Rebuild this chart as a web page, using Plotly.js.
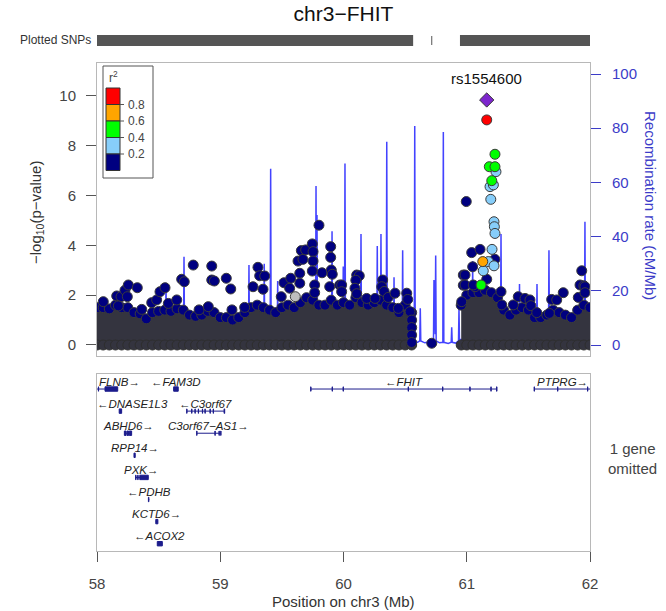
<!DOCTYPE html>
<html><head><meta charset="utf-8">
<script src="https://cdn.plot.ly/plotly-3.0.1.min.js"></script>
<style>html,body{margin:0;padding:0;background:#fff;}#plot{width:666px;height:611px;}</style>
</head><body><div id="plot"></div>
<script>
// ---------------- DATA ----------------
const chartTitle = 'chr3−FHIT';
const leadSnp = 'rs1554600';
const xTicks = [58, 59, 60, 61, 62];
const pTicks = [0, 2, 4, 6, 8, 10];
const recTicks = [0, 20, 40, 60, 80, 100];

// recombination rate (cM/Mb)
const recPos = [58.000,58.080,58.150,58.250,58.350,58.450,58.530,58.556,58.560,58.564,58.640,58.702,58.706,58.710,58.800,58.900,59.000,59.100,59.200,59.229,59.233,59.237,59.300,59.353,59.357,59.361,59.405,59.409,59.413,59.462,59.466,59.470,59.550,59.650,59.720,59.773,59.777,59.781,59.785,59.789,59.850,59.903,59.907,59.911,59.960,59.994,59.998,60.002,60.008,60.012,60.016,60.080,60.138,60.142,60.146,60.220,60.270,60.274,60.278,60.300,60.304,60.308,60.347,60.351,60.355,60.406,60.410,60.414,60.476,60.480,60.484,60.530,60.574,60.578,60.582,60.600,60.619,60.623,60.627,60.660,60.680,60.700,60.730,60.734,60.738,60.744,60.748,60.752,60.780,60.806,60.810,60.814,60.850,60.874,60.878,60.882,60.910,60.933,60.937,60.941,61.000,61.044,61.048,61.052,61.150,61.274,61.278,61.282,61.350,61.424,61.428,61.432,61.500,61.566,61.570,61.574,61.620,61.663,61.667,61.671,61.800,61.955,61.959,61.963,62.000];
const recRate = [2,3,1.5,2.5,2,3,2,3,23,3,2,3,32.6,3,2,2.5,2,3,2,3,29.5,3,2,3,30,3,3,65,3,3,23.6,3,2,2.5,2,4,58.7,5,48,4,2,4,42,3,2,4,29,5,5,67,4,2,4,41,3,2,4,36.5,4,5,41,4,4,75,4,3,25,3,3,35,3,2,2,80.8,1.5,1,1.5,13.6,1.5,0.8,1,0.6,1,24,4,4,33,1.5,0.8,1,78.6,1,0.6,1,6.5,1,0.7,1.5,13.6,2,2,3,31,3,2,4,41,3,2,3,22.5,3,2,3,22.5,3,2,3,35,3,2,3,45.5,3,2];

// upper edge of the dense SNP cloud (-log10 p), and its floor
const bandLeftX = [58.00,58.05,58.10,58.15,58.20,58.25,58.30,58.35,58.40,58.45,58.50,58.55,58.60,58.65,58.70,58.75,58.80,58.85,58.90,58.95,59.00,59.05,59.10,59.15,59.20,59.25,59.30,59.35,59.40,59.45,59.50,59.55,59.60,59.65,59.70,59.75,59.80,59.85,59.90,59.95,60.00,60.05,60.10,60.15,60.20,60.25,60.30,60.35,60.40,60.45,60.50,60.553];
const bandLeftY = [1.5,1.5,1.45,1.6,1.5,1.5,1.3,1.25,1.05,1.3,1.35,1.4,1.35,1.45,1.4,1.2,1.15,1.2,1.35,1.3,1.1,1.1,1.0,1.1,1.3,1.5,1.6,1.5,1.4,1.3,1.5,1.6,1.5,1.7,1.9,1.8,1.6,1.6,1.8,1.6,1.7,1.6,1.9,1.7,1.6,1.7,1.8,1.6,1.5,1.3,1.6,1.3];
const bandRightX = [60.955,61.00,61.05,61.10,61.15,61.20,61.25,61.30,61.35,61.40,61.45,61.50,61.55,61.60,61.65,61.70,61.75,61.80,61.85,61.90,61.95,62.00];
const bandRightY = [1.6,2.0,2.1,2.1,2.2,2.1,1.9,1.4,1.2,1.4,1.5,1.4,1.1,1.1,1.2,1.4,1.3,1.2,1.1,1.4,1.6,1.5];
const bandFloor = 0;

// individual SNPs by LD class
const navyX = [58.051,58.160,58.195,58.227,58.254,58.246,58.327,58.173,58.363,58.444,58.484,58.511,58.552,58.579,58.647,58.687,58.708,58.781,58.931,58.931,58.952,58.828,58.903,59.049,59.085,59.095,59.198,59.306,59.320,59.361,59.266,59.347,59.495,59.517,59.572,59.563,59.631,59.658,59.671,59.693,59.747,59.753,59.753,59.747,59.645,59.645,59.801,59.826,59.766,59.766,59.896,59.896,59.901,59.909,59.888,59.969,59.985,59.985,60.107,60.128,60.100,60.093,60.107,60.188,60.256,60.318,60.310,60.330,60.363,60.418,60.445,60.513,60.521,60.540,60.553,60.553,60.553,60.553,60.716,60.996,60.972,60.972,60.959,61.040,61.108,61.048,60.986,61.228,61.162,61.067,60.986,61.053,61.278,61.284,61.378,61.418,61.473,61.513,61.520,61.568,61.689,61.730,61.783,61.670,61.933,61.919,61.950,61.959,61.905,61.959];
const navyY = [1.74,1.97,1.94,2.20,2.41,1.94,2.30,1.57,1.43,1.70,1.81,2.14,2.30,1.67,1.81,2.64,2.54,3.21,3.17,2.61,2.57,1.41,1.54,2.68,2.25,1.41,1.51,3.12,2.78,2.77,2.34,2.24,1.94,2.50,2.68,2.28,3.37,3.79,3.44,3.82,4.06,3.75,3.37,2.97,2.88,2.48,4.81,2.90,2.41,2.10,3.95,3.52,3.01,2.84,2.34,2.41,2.41,2.14,2.81,2.78,2.60,2.28,2.06,1.87,1.87,2.61,2.34,2.15,1.91,2.08,1.47,2.08,1.83,1.34,1.00,0.70,0.40,0.10,0.07,5.76,2.81,2.40,1.74,3.71,3.84,3.14,2.81,3.44,2.64,2.34,2.41,2.41,2.14,1.61,1.61,1.94,1.87,1.81,1.58,1.30,1.83,1.81,2.10,1.27,2.98,2.41,2.38,2.34,1.91,2.10];
const grayX = [59.609];
const grayY = [1.94];
const lblueX = [61.237,61.189,61.216,61.195,61.221,61.224,61.229,61.205,61.175,61.221,61.134];
const lblueY = [6.96,6.36,6.43,5.85,4.95,4.75,4.48,3.84,3.35,3.18,2.98];
const greenX = [61.229,61.183,61.229,61.203,61.116];
const greenY = [7.66,7.16,7.16,6.60,2.41];
const orangeX = [61.130];
const orangeY = [3.35];
const redX = [61.162];
const redY = [9.04];
const leadX = [61.162];
const leadY = [9.84];

// r^2 legend
const ldBreaks = ['0.2', '0.4', '0.6', '0.8'];
const ldColors = ['#000080', '#87CEFA', '#00FF00', '#FFA500', '#FF0000'];

// SNP coverage (plotted SNPs rug)
const snpBlockStart = [58.0, 60.945];
const snpBlockEnd = [60.565, 62.0];
const snpSingle = [60.716];

// genes
const geneNames = ['FLNB','FAM3D','DNASE1L3','C3orf67','ABHD6','C3orf67−AS1','RPP14','PXK','PDHB','KCTD6','ACOX2','FHIT','PTPRG'];
const geneStart = [57.994,58.620,58.180,58.728,58.222,58.808,58.300,58.313,58.416,58.477,58.489,59.735,61.547];
const geneEnd   = [58.168,58.659,58.200,59.036,58.281,59.006,58.310,58.416,58.424,58.494,58.530,61.245,62.283];
const geneStrand = ['+','-','-','-','+','+','+','+','-','+','-','-','+'];
const geneRow = [0,0,1,1,2,2,3,4,5,6,7,0,0];
const exonGene  = [0,0,1,2,3,3,3,3,3,3,3,3,3,4,4,4,5,5,5,5,6,7,7,7,8,9,10,11,11,11,11,11,11,11,11,12,12,12];
const exonStart = [58.011,58.065,58.622,58.180,58.728,58.768,58.795,58.822,58.855,58.876,58.917,58.943,59.031,58.222,58.244,58.262,58.809,58.957,58.990,59.004,58.300,58.313,58.330,58.347,58.417,58.477,58.489,59.734,59.908,59.997,60.525,60.804,61.025,61.196,61.242,61.547,61.737,61.980];
const exonEnd   = [58.013,58.168,58.659,58.200,58.730,58.770,58.797,58.824,58.857,58.878,58.919,58.945,59.036,58.236,58.256,58.281,58.811,58.959,58.992,59.006,58.310,58.317,58.334,58.416,58.421,58.494,58.530,59.736,59.910,59.999,60.527,60.806,61.027,61.198,61.245,61.549,61.739,61.982];
const omittedNote = '1 gene<br>omitted';

// ---------------- LAYOUT HELPERS ----------------
const W = 666, H = 611;
const px = v => v / W;
const py = v => 1 - v / H;
const FONT = 'Liberation Sans, Arial, sans-serif';
const recColor = '#3c3cc8';
const frameColor = '#b8b8b8';
const geneColor = '#1c1c8c';
const bandColor = '#34343f';
const ptLine = {color: '#3b3b3b', width: 1};

function pts(x, y, color, symbol, size, line) {
  return {x: x, y: y, type: 'scatter', mode: 'markers', xaxis: 'x', yaxis: 'y2', hoverinfo: 'skip',
    marker: {color: color, size: size || 10, symbol: symbol || 'circle', line: line || ptLine}};
}

const traces = [];
traces.push({x: recPos, y: recRate, type: 'scatter', mode: 'lines', xaxis: 'x', yaxis: 'y', hoverinfo: 'skip',
  line: {color: 'rgba(20,20,255,0.8)', width: 1.5}});
[[bandLeftX, bandLeftY], [bandRightX, bandRightY]].forEach(b => {
  traces.push({x: b[0], y: b[1], type: 'scatter', mode: 'none', fill: 'tozeroy', fillcolor: bandColor,
    xaxis: 'x', yaxis: 'y2', hoverinfo: 'skip'});
  traces.push(pts(b[0], b[0].map(() => bandFloor), bandColor, 'circle', 10, {color: '#2e2e2e', width: 1}));
  traces.push(pts(b[0], b[1], '#000080'));
});
traces.push(pts(navyX, navyY, '#000080'));
traces.push(pts(grayX, grayY, '#BEBEBE'));
traces.push(pts(lblueX, lblueY, '#87CEFA'));
traces.push(pts(greenX, greenY, '#00FF00'));
traces.push(pts(orangeX, orangeY, '#FFA500'));
traces.push(pts(redX, redY, '#FF0000'));
traces.push(pts(leadX, leadY, '#7D26CD', 'diamond', 11));

// gene bodies
const gx = [], gy = [];
geneNames.forEach((n, i) => { gx.push(geneStart[i], geneEnd[i], null); gy.push(geneRow[i], geneRow[i], null); });
traces.push({x: gx, y: gy, type: 'scatter', mode: 'lines', xaxis: 'x2', yaxis: 'y3', hoverinfo: 'skip',
  line: {color: geneColor, width: 1}});

const shapes = [];
const annotations = [];

exonGene.forEach((g, k) => {
  shapes.push({type: 'rect', xref: 'x2', yref: 'y3', x0: exonStart[k], x1: exonEnd[k],
    y0: geneRow[g] - 0.1, y1: geneRow[g] + 0.1, fillcolor: geneColor, line: {color: geneColor, width: 1}});
});

const mbPerPx = 4 / 493;
geneNames.forEach((n, i) => {
  const txt = geneStrand[i] === '+' ? n + '→' : '←' + n;
  const w = ((txt.length - 1) * 6.6 + 12) * mbPerPx;
  let c = (Math.max(geneStart[i], 58) + Math.min(geneEnd[i], 62)) / 2;
  const lo = 58 + 3 * mbPerPx, hi = 62 - 2 * mbPerPx;
  if (c - w / 2 < lo) c = lo + w / 2;
  if (c + w / 2 > hi) c = hi - w / 2;
  annotations.push({xref: 'x2', yref: 'y3', x: c, y: geneRow[i] - 0.33, text: '<i>' + txt + '</i>',
    showarrow: false, xanchor: 'center', yanchor: 'middle', font: {family: FONT, size: 11.5, color: '#222'}});
});

// plotted SNPs rug
snpBlockStart.forEach((s, i) => {
  shapes.push({type: 'rect', xref: 'x', yref: 'paper', x0: s, x1: snpBlockEnd[i], y0: py(46), y1: py(35),
    fillcolor: '#555555', line: {width: 0}});
});
snpSingle.forEach(s => {
  shapes.push({type: 'line', xref: 'x', yref: 'paper', x0: s, x1: s, y0: py(45), y1: py(36),
    line: {color: '#555555', width: 1}});
});

// r2 legend
shapes.push({type: 'rect', xref: 'paper', yref: 'paper', x0: px(103), x1: px(153), y0: py(178), y1: py(66),
  fillcolor: 'white', line: {color: '#555', width: 1}, layer: 'above'});
const blkTop = 88, blkH = 16.5;
ldColors.slice().reverse().forEach((c, k) => {
  shapes.push({type: 'rect', xref: 'paper', yref: 'paper', x0: px(106), x1: px(120),
    y0: py(blkTop + (k + 1) * blkH), y1: py(blkTop + k * blkH), fillcolor: c, line: {color: '#333', width: 1}});
});
ldBreaks.slice().reverse().forEach((b, k) => {
  const yy = blkTop + (k + 1) * blkH;
  shapes.push({type: 'line', xref: 'paper', yref: 'paper', x0: px(120), x1: px(124), y0: py(yy), y1: py(yy),
    line: {color: '#555', width: 1}});
  annotations.push({xref: 'paper', yref: 'paper', x: px(126), y: py(yy), text: b, showarrow: false,
    xanchor: 'left', yanchor: 'middle', font: {family: FONT, size: 12, color: '#444'}});
});
annotations.push({xref: 'paper', yref: 'paper', x: px(113), y: py(77), text: 'r<sup>2</sup>', showarrow: false,
  xanchor: 'center', yanchor: 'middle', font: {family: FONT, size: 12, color: '#444'}});

// texts
annotations.push({xref: 'x', yref: 'y2', x: leadX[0], y: leadY[0], yshift: 21, text: leadSnp, showarrow: false,
  xanchor: 'center', yanchor: 'middle', font: {family: FONT, size: 15, color: '#111'}});
annotations.push({xref: 'paper', yref: 'paper', x: px(93), y: py(40), text: 'Plotted SNPs', showarrow: false,
  xanchor: 'right', yanchor: 'middle', font: {family: FONT, size: 12, color: '#333'}});
annotations.push({xref: 'paper', yref: 'paper', x: px(36), y: py(213), text: '−log<sub>10</sub>(p−value)',
  textangle: -90, showarrow: false, xanchor: 'center', yanchor: 'middle', font: {family: FONT, size: 15, color: '#333'}});
annotations.push({xref: 'paper', yref: 'paper', x: px(651), y: py(205), text: 'Recombination rate (cM/Mb)',
  textangle: 90, showarrow: false, xanchor: 'center', yanchor: 'middle', font: {family: FONT, size: 15, color: recColor}});
annotations.push({xref: 'paper', yref: 'paper', x: px(343.5), y: py(601), text: 'Position on chr3 (Mb)',
  showarrow: false, xanchor: 'center', yanchor: 'middle', font: {family: FONT, size: 15, color: '#333'}});
annotations.push({xref: 'paper', yref: 'paper', x: px(632), y: py(458), text: omittedNote, showarrow: false,
  xanchor: 'center', yanchor: 'middle', align: 'center', font: {family: FONT, size: 15, color: '#444'}});

const xDom = [px(97), px(590)];
const layout = {
  width: W, height: H, margin: {l: 0, r: 0, t: 0, b: 0}, paper_bgcolor: 'white', plot_bgcolor: 'white',
  showlegend: false, font: {family: FONT},
  title: {text: chartTitle, x: px(343.5), xanchor: 'center', y: py(14), yanchor: 'middle',
    font: {family: FONT, size: 21, color: '#111'}},
  xaxis: {domain: xDom, range: [58, 62], anchor: 'y', showline: true, mirror: true, linecolor: frameColor,
    showticklabels: false, ticks: '', showgrid: false, zeroline: false},
  yaxis: {domain: [py(356), py(63)], range: [-4.06, 104.06], anchor: 'x', side: 'right', tickvals: recTicks,
    ticks: 'outside', ticklen: 10, tickcolor: recColor, ticklabelstandoff: 8,
    tickfont: {family: FONT, size: 15, color: recColor}, showline: true, mirror: true, linecolor: frameColor,
    showgrid: false, zeroline: false},
  yaxis2: {overlaying: 'y', side: 'left', anchor: 'x', range: [-0.442, 11.325], tickvals: pTicks,
    ticks: 'outside', ticklen: 10, tickcolor: '#555', ticklabelstandoff: 7,
    tickfont: {family: FONT, size: 15, color: '#444'}, showline: false, showgrid: false, zeroline: false},
  xaxis2: {domain: xDom, range: [58, 62], anchor: 'y3', tickvals: xTicks, ticks: 'outside', ticklen: 10,
    tickcolor: '#555', ticklabelstandoff: 9, tickfont: {family: FONT, size: 15, color: '#444'},
    showline: true, mirror: true, linecolor: frameColor, showgrid: false, zeroline: false},
  yaxis3: {domain: [py(551), py(374)], range: [7.33, -0.68], anchor: 'x2', showline: true, mirror: true,
    linecolor: frameColor, showticklabels: false, ticks: '', showgrid: false, zeroline: false},
  shapes: shapes, annotations: annotations
};

Plotly.newPlot('plot', traces, layout, {staticPlot: true, displayModeBar: false});
</script></body></html>
